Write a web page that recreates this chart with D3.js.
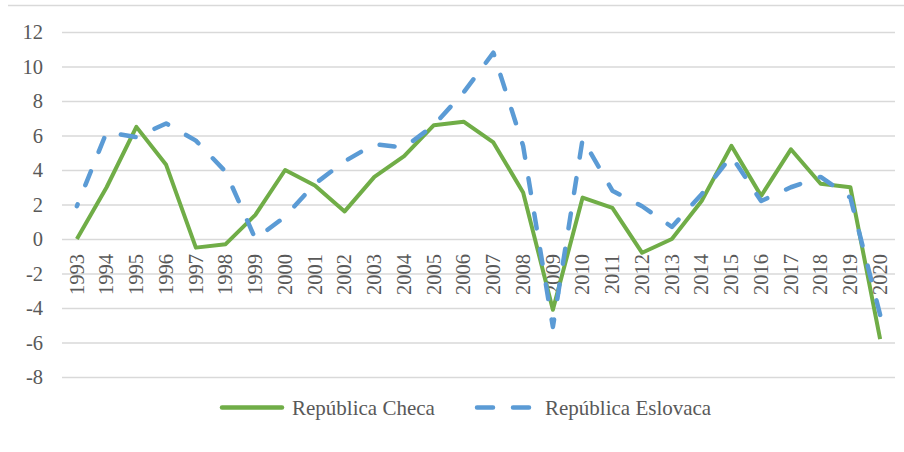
<!DOCTYPE html>
<html>
<head>
<meta charset="utf-8">
<script src="https://cdn.jsdelivr.net/npm/d3@7"></script>
<style>
  html, body { margin: 0; padding: 0; background: #fff; }
  #chart { width: 904px; height: 452px; }
  text { font-family: "Liberation Serif", "Times New Roman", serif; fill: #595959; }
</style>
</head>
<body>
<div id="chart"></div>
<script>
// years on the x axis
const years = ['1993', '1994', '1995', '1996', '1997', '1998', '1999', '2000', '2001', '2002',
  '2003', '2004', '2005', '2006', '2007', '2008', '2009', '2010', '2011', '2012',
  '2013', '2014', '2015', '2016', '2017', '2018', '2019', '2020']

// values
const czech = [0.0, 3.0, 6.5, 4.3, -0.5, -0.3, 1.4, 4.0, 3.1, 1.6,
  3.6, 4.8, 6.6, 6.8, 5.6, 2.7, -4.1, 2.4, 1.8, -0.8,
  0.0, 2.2, 5.4, 2.5, 5.2, 3.2, 3.0, -5.8]
const slovak = [1.9, 6.2, 5.9, 6.7, 5.7, 3.9, 0.0, 1.3, 3.2, 4.5,
  5.5, 5.3, 6.6, 8.5, 10.8, 5.4, -5.1, 5.8, 2.8, 1.9,
  0.7, 2.6, 4.8, 2.2, 3.0, 3.6, 2.4, -4.4]

const yTicks = [-8, -6, -4, -2, 0, 2, 4, 6, 8, 10, 12]
const seriesNames = ['República Checa', 'República Eslovaca']

const width = 904
const height = 452
const marginLeft = 62
const plotRight = 895
const plotTop = 32
const plotBottom = 377

const green = '#70ad47'
const blue = '#5b9bd5'
const dashLen = 15
const gapLen = 20.8

const svg = d3.select('#chart').append('svg')
    .attr('width', width)
    .attr('height', height)

// light frame edge at the top
svg.append('line')
    .attr('x1', 8).attr('x2', width)
    .attr('y1', 5.5).attr('y2', 5.5)
    .attr('stroke', '#d9d9d9')
    .attr('stroke-width', 1.5)

const x = d3.scalePoint()
    .domain(years)
    .range([marginLeft, plotRight])
    .padding(0.5)

const y = d3.scaleLinear()
    .domain([-8, 12])
    .range([plotBottom, plotTop])

// y axis + gridlines
const leftAxis = svg.append('g')
    .attr('transform', `translate(${marginLeft},0)`)
    .call(d3.axisLeft(y)
        .tickValues(yTicks)
        .tickFormat(d => String(d))
        .tickSizeInner(-(plotRight - marginLeft))
        .tickSizeOuter(0)
        .tickPadding(19))
leftAxis.select('.domain').remove()
leftAxis.selectAll('line')
    .attr('stroke', '#d9d9d9')
    .attr('stroke-width', 1.5)
leftAxis.selectAll('text')
    .style('font-size', '20.5px')
    .attr('fill', '#595959')
    .attr('dy', '0.34em')

// x axis labels, rotated, hanging below zero
const bottomAxis = svg.append('g')
    .attr('transform', `translate(0,${y(0)})`)
    .call(d3.axisBottom(x).tickSize(0))
bottomAxis.select('.domain').remove()
bottomAxis.selectAll('text')
    .style('font-size', '20.5px')
    .attr('fill', '#595959')
    .attr('transform', 'rotate(-90)')
    .attr('x', -15)
    .attr('y', 0)
    .attr('dy', '0.3em')
    .attr('text-anchor', 'end')

// lines
const line = d3.line()
    .x((d, i) => x(years[i]))
    .y(d => y(d))

svg.append('path')
    .datum(czech)
    .attr('d', line)
    .attr('fill', 'none')
    .attr('stroke', green)
    .attr('stroke-width', 4)
    .attr('stroke-linejoin', 'round')

// shift the dash pattern so a dash sits on the 2009 dip, like the original
let lenTo2009 = 0
for (let i = 1; i <= years.indexOf('2009'); i++) {
  const dx = x(years[i]) - x(years[i - 1])
  const dy = y(slovak[i]) - y(slovak[i - 1])
  lenTo2009 += Math.hypot(dx, dy)
}
const period = dashLen + gapLen
const dashOffset = dashLen / 2 - (lenTo2009 % period)

svg.append('path')
    .datum(slovak)
    .attr('d', line)
    .attr('fill', 'none')
    .attr('stroke', blue)
    .attr('stroke-width', 4.5)
    .attr('stroke-linejoin', 'round')
    .attr('stroke-linecap', 'round')
    .attr('stroke-dasharray', `${dashLen},${gapLen}`)
    .attr('stroke-dashoffset', dashOffset)

// legend
const legend = svg.append('g')
legend.append('line')
    .attr('x1', 222).attr('x2', 282)
    .attr('y1', 407.5).attr('y2', 407.5)
    .attr('stroke', green)
    .attr('stroke-width', 4.5)
    .attr('stroke-linecap', 'round')
legend.append('text')
    .attr('x', 292).attr('y', 415)
    .style('font-size', '21px')
    .text(seriesNames[0])

legend.append('line')
    .attr('x1', 477).attr('x2', 531)
    .attr('y1', 407.5).attr('y2', 407.5)
    .attr('stroke', blue)
    .attr('stroke-width', 4.5)
    .attr('stroke-linecap', 'round')
    .attr('stroke-dasharray', '16,20')
legend.append('text')
    .attr('x', 545).attr('y', 415)
    .style('font-size', '21px')
    .text(seriesNames[1])
</script>
</body>
</html>
